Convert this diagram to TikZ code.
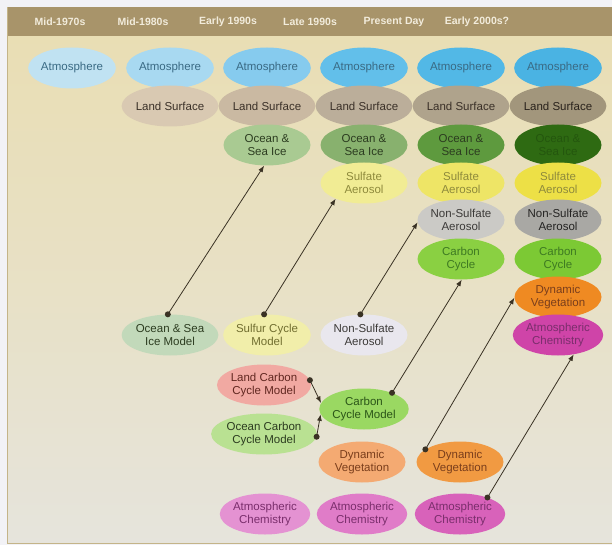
\documentclass[tikz,border=0pt]{standalone}
\usepackage{fontspec}
\setmainfont{Liberation Sans}
\usetikzlibrary{shapes.geometric,arrows.meta}
\definecolor{hdr}{HTML}{A8946A}
\definecolor{hdrtxt}{HTML}{F2ECDC}
\definecolor{bgtop}{HTML}{E9DEB4}
\definecolor{bgbot}{HTML}{E6E4DC}
\definecolor{outside}{HTML}{F2F2F6}
\definecolor{frameln}{HTML}{C4B488}
\definecolor{arr}{HTML}{3A3224}
% atmosphere
\definecolor{atA}{HTML}{C0E2F2}\definecolor{atB}{HTML}{A8D9F1}\definecolor{atC}{HTML}{86CBEE}
\definecolor{atD}{HTML}{62BFEA}\definecolor{atE}{HTML}{52B8E6}\definecolor{atF}{HTML}{4AB3E3}
\definecolor{attx}{HTML}{3A6A84}
% land surface
\definecolor{lsB}{HTML}{D9C9B2}\definecolor{lsC}{HTML}{CAB9A2}\definecolor{lsD}{HTML}{BBAE9A}
\definecolor{lsE}{HTML}{AFA38C}\definecolor{lsF}{HTML}{A2967C}
\definecolor{lstx}{HTML}{3A3028}
% ocean
\definecolor{ocC}{HTML}{A9CA92}\definecolor{ocD}{HTML}{88B16E}\definecolor{ocE}{HTML}{5E9A3E}
\definecolor{ocF}{HTML}{2E6A12}\definecolor{octx}{HTML}{2C3C20}\definecolor{ocFtx}{HTML}{24560E}
% sulfate
\definecolor{suD}{HTML}{F1EC94}\definecolor{suE}{HTML}{EEE566}\definecolor{suF}{HTML}{EDE046}
\definecolor{sutx}{HTML}{8E8A3C}
% non-sulfate
\definecolor{nsE}{HTML}{CBCAC6}\definecolor{nsF}{HTML}{A9A8A4}\definecolor{nstx}{HTML}{3C3A38}
% carbon
\definecolor{caE}{HTML}{8AD042}\definecolor{caF}{HTML}{7CC934}\definecolor{catx}{HTML}{3E7A22}
% dyn veg
\definecolor{dvD}{HTML}{F4AA72}\definecolor{dvE}{HTML}{F19A42}\definecolor{dvF}{HTML}{EF8A22}
\definecolor{dvtx}{HTML}{7A3E1C}
% atm chem
\definecolor{acC}{HTML}{E492D2}\definecolor{acD}{HTML}{E07CC8}\definecolor{acE}{HTML}{D862BA}
\definecolor{acF}{HTML}{CF44A8}\definecolor{actx}{HTML}{7A2E6C}
% lower models
\definecolor{oim}{HTML}{C2D9BA}\definecolor{scm}{HTML}{F1EEAA}\definecolor{nsa}{HTML}{E9E7EE}
\definecolor{lcm}{HTML}{F1A9A2}\definecolor{ocm}{HTML}{B9E192}\definecolor{ccm}{HTML}{9AD862}
\tikzset{
  blob/.style={ellipse, minimum width=87pt, minimum height=41pt, inner sep=0pt,
    align=center, font=\fontsize{11.5}{12.5}\selectfont},
  era/.style={font=\fontsize{10.5}{12}\selectfont\bfseries, text=hdrtxt},
  link/.style={draw=arr, line width=0.8pt, -{Latex[length=6.5pt,width=5pt]}},
  dotend/.style={fill=arr, circle, inner sep=0pt, minimum size=6pt}
}
\begin{document}
\begin{tikzpicture}[x=1pt,y=-1pt]
\useasboundingbox (0,0) rectangle (612,545);
\fill[outside] (0,0) rectangle (612,545);
\shade[top color=bgtop, bottom color=bgbot, middle color=bgtop!55!bgbot] (7,36) rectangle (612,543);
\fill[hdr] (7,7) rectangle (612,36);
\draw[frameln, line width=1pt] (7,7) -- (7,543) -- (612,543);
% header
\node[era] (h1) at (60,22) {Mid-1970s};
\node[era] (h2) at (143,22) {Mid-1980s};
\node[era] (h3) at (228,22) {Early 1990s};
\node[era] (h4) at (310,22) {Late 1990s};
\node[era] (h5) at (394,22) {Present Day};
\node[era] (h6) at (477,22) {Early 2000s?};
% lower models (drawn first)
\node[blob, fill=oim, text=octx] (oim) at (170,335) {Ocean \& Sea\\Ice Model};
\node[blob, fill=scm, text=sutx!80!black] (scm) at (267,335) {Sulfur Cycle\\Model};
\node[blob, fill=nsa, text=nstx] (nsa) at (364,335) {Non-Sulfate\\Aerosol};
\node[blob, fill=lcm, text=lstx!80!red] (lcm) at (264,385) {Land Carbon\\Cycle Model};
\node[blob, fill=ocm, text=octx] (ocm) at (264,434) {Ocean Carbon\\Cycle Model};
\node[blob, fill=ccm, text=catx!70!black] (ccm) at (364,409) {Carbon\\Cycle Model};
\node[blob, fill=dvD, text=dvtx] (dv4) at (362,462) {Dynamic\\Vegetation};
\node[blob, fill=dvE, text=dvtx] (dv5) at (460,462) {Dynamic\\Vegetation};
\node[blob, fill=acC, text=actx] (ac3) at (265,514) {Atmospheric\\Chemistry};
\node[blob, fill=acD, text=actx] (ac4) at (362,514) {Atmospheric\\Chemistry};
\node[blob, fill=acE, text=actx] (ac5) at (460,514) {Atmospheric\\Chemistry};
% columns
\node[blob, fill=atA, text=attx] (at1) at (72,68) {Atmosphere};
\node[blob, fill=atB, text=attx] (at2) at (170,68) {Atmosphere};
\node[blob, fill=atC, text=attx] (at3) at (267,68) {Atmosphere};
\node[blob, fill=atD, text=attx] (at4) at (364,68) {Atmosphere};
\node[blob, fill=atE, text=attx] (at5) at (461,68) {Atmosphere};
\node[blob, fill=atF, text=attx] (at6) at (558,68) {Atmosphere};
\node[blob, fill=lsB, text=lstx] (ls2) at (170,106) {Land Surface};
\node[blob, fill=lsC, text=lstx] (ls3) at (267,106) {Land Surface};
\node[blob, fill=lsD, text=lstx] (ls4) at (364,106) {Land Surface};
\node[blob, fill=lsE, text=lstx] (ls5) at (461,106) {Land Surface};
\node[blob, fill=lsF, text=lstx!70!black] (ls6) at (558,106) {Land Surface};
\node[blob, fill=ocC, text=octx] (oc3) at (267,145) {Ocean \&\\Sea Ice};
\node[blob, fill=ocD, text=octx] (oc4) at (364,145) {Ocean \&\\Sea Ice};
\node[blob, fill=ocE, text=octx] (oc5) at (461,145) {Ocean \&\\Sea Ice};
\node[blob, fill=ocF, text=ocFtx] (oc6) at (558,145) {Ocean \&\\Sea Ice};
\node[blob, fill=suD, text=sutx] (su4) at (364,183) {Sulfate\\Aerosol};
\node[blob, fill=suE, text=sutx] (su5) at (461,183) {Sulfate\\Aerosol};
\node[blob, fill=suF, text=sutx] (su6) at (558,183) {Sulfate\\Aerosol};
\node[blob, fill=nsE, text=nstx] (ns5) at (461,220) {Non-Sulfate\\Aerosol};
\node[blob, fill=nsF, text=nstx!60!black] (ns6) at (558,220) {Non-Sulfate\\Aerosol};
\node[blob, fill=caE, text=catx] (ca5) at (461,259) {Carbon\\Cycle};
\node[blob, fill=caF, text=catx] (ca6) at (558,259) {Carbon\\Cycle};
\node[blob, fill=dvF, text=dvtx] (dv6) at (558,297) {Dynamic\\Vegetation};
\node[blob, fill=acF, text=actx] (ac6) at (558,335) {Atmospheric\\Chemistry};
% connectors
\draw[link] (oim.96) -- (oc3.262);
\draw[link] (scm.98) -- (su4.209);
\draw[link] (nsa.100) -- (ns5.183);
\draw[link] (ccm.30) -- (ca5.272);
\draw[link] (lcm.6) -- (ccm.172);
\draw[link] (ocm.357) -- (ccm.187);
\draw[link] (dv5.160) -- (dv6.181);
\draw[link] (ac5.31) -- (ac6.309);
% start dots
\node[dotend] (d1) at (oim.96) {};
\node[dotend] (d2) at (scm.98) {};
\node[dotend] (d3) at (nsa.100) {};
\node[dotend] (d4) at (ccm.30) {};
\node[dotend] (d5) at (lcm.6) {};
\node[dotend] (d6) at (ocm.357) {};
\node[dotend] (d7) at (dv5.160) {};
\node[dotend] (d8) at (ac5.31) {};
\end{tikzpicture}
\end{document}
